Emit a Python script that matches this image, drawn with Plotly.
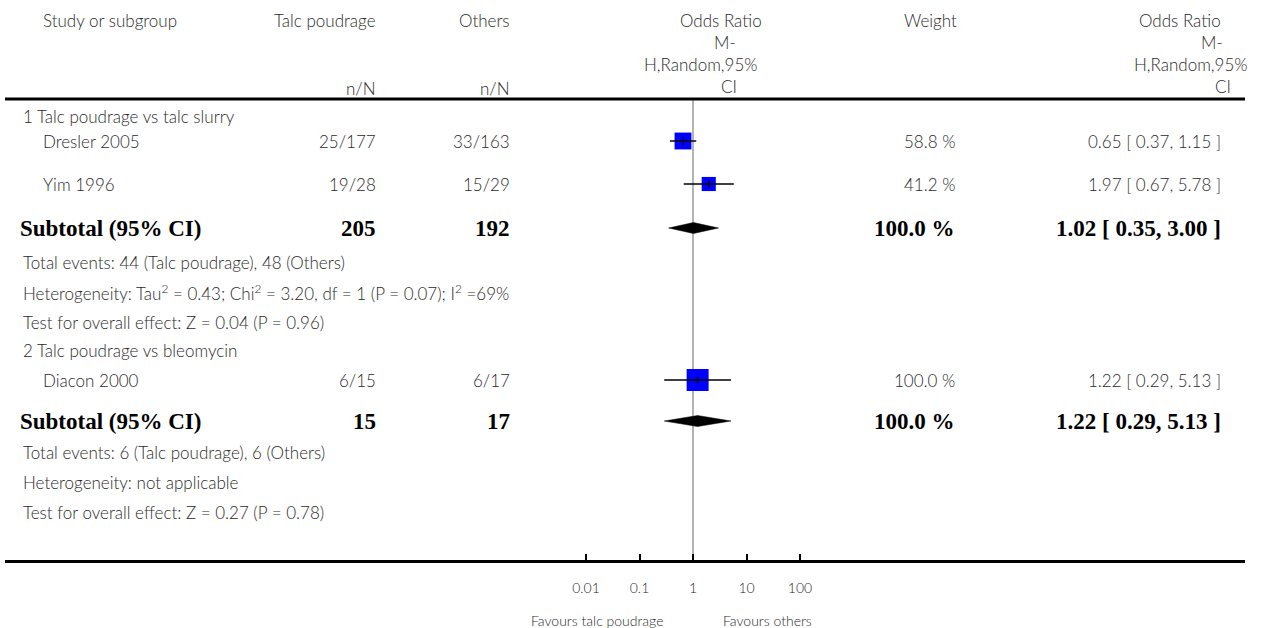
import math
import plotly.graph_objects as go

# ---- data -------------------------------------------------------------
group_titles = ["1 Talc poudrage vs talc slurry", "2 Talc poudrage vs bleomycin"]

study_names = ["Dresler 2005", "Yim 1996", "Diacon 2000"]
talc_nN = ["25/177", "19/28", "6/15"]
others_nN = ["33/163", "15/29", "6/17"]
study_or = [0.65, 1.97, 1.22]
study_lo = [0.37, 0.67, 0.29]
study_hi = [1.15, 5.78, 5.13]
study_weight = [58.8, 41.2, 100.0]

subtotal_talc = [205, 15]
subtotal_others = [192, 17]
subtotal_or = [1.02, 1.22]
subtotal_lo = [0.35, 0.29]
subtotal_hi = [3.00, 5.13]
subtotal_weight = [100.0, 100.0]

total_events = [
    "Total events: 44 (Talc poudrage), 48 (Others)",
    "Total events: 6 (Talc poudrage), 6 (Others)",
]
heterogeneity = [
    "Heterogeneity: Tau<sup>2</sup> = 0.43; Chi<sup>2</sup> = 3.20, df = 1 (P = 0.07); I<sup>2</sup> =69%",
    "Heterogeneity: not applicable",
]
overall_effect = [
    "Test for overall effect: Z = 0.04 (P = 0.96)",
    "Test for overall effect: Z = 0.27 (P = 0.78)",
]

or_header = ["Odds Ratio", "M-", "H,Random,95%", "CI"]
tick_values = [0.01, 0.1, 1, 10, 100]
tick_labels = ["0.01", "0.1", "1", "10", "100"]
favours_left = "Favours talc poudrage"
favours_right = "Favours others"

# ---- layout geometry (pixels) ----------------------------------------
W, H = 1263, 628
row_y = {
    "group": [116, 350],
    "study": [141, 184, 380],
    "subtotal": [228, 421],
    "events": [262, 452],
    "het": [292, 482],
    "test": [322, 512],
}
header_y = 20
or_header_y = [20, 42, 64, 86]
nN_y = 88
header_rule_y = 99
axis_y = 561
x_one_px = 693          # pixel where OR = 1
decade_px = 53.5        # pixels per log10 decade
axis_left, axis_right = 5, 1245

col = {
    "left": 21, "study": 41, "subtotal": 18,
    "talc": 378, "others": 512,
    "weight_hdr": 959, "weight": 957, "or": 1223,
}
# right edges of the wrapped odds-ratio header lines
or_hdr_left = [764, 738, 760, 739]
or_hdr_right = [1223, 1225, 1250, 1233]

TXT = "#2a2a2a"
FAMILY = "Lato, 'Open Sans', sans-serif"
BODY = dict(family=FAMILY, size=17, color=TXT, weight=300)
SMALL = dict(family=FAMILY, size=14, color=TXT, weight=300)
BOLD = dict(family="'Liberation Serif', 'Times New Roman', serif", size=23, color="#000000")

fig = go.Figure()

# study CI lines, squares and point ticks
for i, name in enumerate(study_names):
    y = row_y["study"][i]
    size = 22 * math.sqrt(study_weight[i] / 100.0)
    fig.add_trace(go.Scatter(
        x=[study_or[i]], y=[y], mode="markers",
        marker=dict(symbol="square", size=size, color="#0000FF", line=dict(width=0)),
        hoverinfo="skip", showlegend=False))
    fig.add_trace(go.Scatter(
        x=[study_lo[i], study_hi[i]], y=[y, y], mode="lines",
        line=dict(color="#000000", width=1.5),
        hoverinfo="skip", showlegend=False))
    fig.add_trace(go.Scatter(
        x=[study_or[i]], y=[y], mode="markers",
        marker=dict(symbol="line-ns", size=6, line=dict(color="#000000", width=1)),
        hoverinfo="skip", showlegend=False))

# subtotal diamonds
half_h = 5.5
for g in range(len(subtotal_or)):
    y = row_y["subtotal"][g]
    fig.add_trace(go.Scatter(
        x=[subtotal_lo[g], subtotal_or[g], subtotal_hi[g], subtotal_or[g], subtotal_lo[g]],
        y=[y, y - half_h, y, y + half_h, y],
        mode="lines", fill="toself", fillcolor="#000000",
        line=dict(color="#000000", width=0.5),
        hoverinfo="skip", showlegend=False))

ann = []


def text(x, y, s, anchor="left", font=BODY):
    ann.append(dict(x=x / W, y=y, xref="paper", yref="y", text=s, showarrow=False,
                    xanchor=anchor, yanchor="middle", font=font, align=anchor))


# header
text(col["study"], header_y, "Study or subgroup")
text(col["talc"], header_y, "Talc poudrage", "right")
text(col["others"], header_y, "Others", "right")
text(col["talc"], nN_y, "n/N", "right")
text(col["others"], nN_y, "n/N", "right")
text(col["weight_hdr"], header_y, "Weight", "right")
for i, line in enumerate(or_header):
    text(or_hdr_left[i], or_header_y[i], line, "right")
    text(or_hdr_right[i], or_header_y[i], line, "right")

# body
for g in range(len(group_titles)):
    ys = row_y["subtotal"][g]
    text(col["left"], row_y["group"][g], group_titles[g])
    text(col["subtotal"], ys, "<b>Subtotal (95% CI)</b>", font=BOLD)
    text(col["talc"], ys, f"<b>{subtotal_talc[g]}</b>", "right", BOLD)
    text(col["others"], ys, f"<b>{subtotal_others[g]}</b>", "right", BOLD)
    text(col["weight"], ys, f"<b>{subtotal_weight[g]:.1f} %</b>", "right", BOLD)
    text(col["or"], ys,
         f"<b>{subtotal_or[g]:.2f} [ {subtotal_lo[g]:.2f}, {subtotal_hi[g]:.2f} ]</b>", "right", BOLD)
    text(col["left"], row_y["events"][g], total_events[g])
    text(col["left"], row_y["het"][g], heterogeneity[g])
    text(col["left"], row_y["test"][g], overall_effect[g])

for i, name in enumerate(study_names):
    y = row_y["study"][i]
    text(col["study"], y, name)
    text(col["talc"], y, talc_nN[i], "right")
    text(col["others"], y, others_nN[i], "right")
    text(col["weight"], y, f"{study_weight[i]:.1f} %", "right")
    text(col["or"], y, f"{study_or[i]:.2f} [ {study_lo[i]:.2f}, {study_hi[i]:.2f} ]", "right")

# favours labels under the axis
text(597, 620, favours_left, "center", SMALL)
text(767, 620, favours_right, "center", SMALL)

shapes = [
    dict(type="line", xref="paper", yref="y", x0=axis_left / W, x1=axis_right / W,
         y0=header_rule_y, y1=header_rule_y, line=dict(color="#000000", width=3)),
    dict(type="line", xref="x", yref="y", x0=1, x1=1, y0=header_rule_y + 1, y1=axis_y,
         line=dict(color="#8c8c8c", width=1.3), layer="below"),
]

log_left = (axis_left - x_one_px) / decade_px
log_right = (axis_right - x_one_px) / decade_px

fig.update_layout(
    width=W, height=H, margin=dict(l=0, r=0, t=0, b=0),
    paper_bgcolor="white", plot_bgcolor="white",
    annotations=ann, shapes=shapes, showlegend=False,
    xaxis=dict(
        type="log", domain=[axis_left / W, axis_right / W], range=[log_left, log_right],
        anchor="free", position=(H - axis_y) / H,
        showline=True, linecolor="#000000", linewidth=3,
        ticks="inside", ticklen=6, tickwidth=2, tickcolor="#000000",
        tickvals=tick_values, ticktext=tick_labels,
        tickfont=SMALL,
        ticklabelstandoff=13,
        showgrid=False, zeroline=False, fixedrange=True,
    ),
    yaxis=dict(range=[H, 0], domain=[0, 1], visible=False, fixedrange=True),
)

fig.write_html("out.html")
